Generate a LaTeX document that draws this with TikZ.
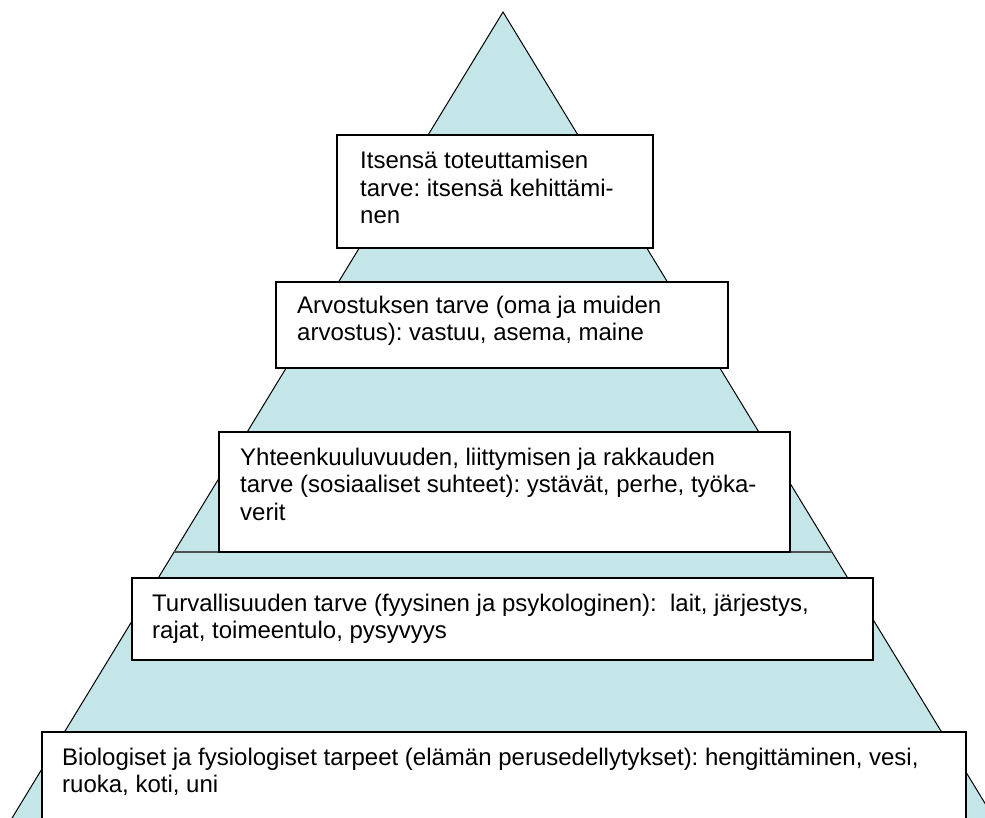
\documentclass[tikz,border=0pt]{standalone}
\usepackage{fontspec}
\setmainfont{Liberation Sans}
\definecolor{pyrfill}{RGB}{196,230,232}
\definecolor{layerline}{RGB}{80,80,80}
\begin{document}
\begin{tikzpicture}[x=1pt,y=-1pt,
  boxstyle/.style={draw=black,line width=2pt,fill=white},
  labelstyle/.style={anchor=base west,inner sep=0pt,align=left,
    font=\fontsize{24}{27.5}\selectfont\frenchspacing}]
\useasboundingbox (0,0) rectangle (985,818);
\clip (0,0) rectangle (985,818);
% pyramid
\coordinate (apex) at (503,12);
\coordinate (bl) at (-5,846);
\coordinate (br) at (1011,846);
\draw[fill=pyrfill,draw=black,line width=1pt] (apex) -- (bl) -- (br) -- cycle;
\coordinate (ll) at (174,552);
\coordinate (lr) at (832,552);
\draw[layerline,line width=1.5pt] (ll) -- (lr);
% boxes (text anchored at baseline of last line)
\draw[boxstyle] (337,135) rectangle (653,248);
\node[labelstyle] (t1) at (360,224) {Itsensä toteuttamisen\\tarve: itsensä kehittämi-\\nen};
\draw[boxstyle] (276,282) rectangle (728,368);
\node[labelstyle] (t2) at (297,340.5) {Arvostuksen tarve (oma ja muiden\\arvostus): vastuu, asema, maine};
\draw[boxstyle] (219,432) rectangle (790,552);
\node[labelstyle] (t3) at (240,520) {Yhteenkuuluvuuden, liittymisen ja rakkauden\\tarve (sosiaaliset suhteet): ystävät, perhe, työka-\\verit};
\draw[boxstyle] (132,578) rectangle (873,660);
\node[labelstyle] (t4) at (152,638.5) {Turvallisuuden tarve (fyysinen ja psykologinen):\ \ lait, järjestys,\\rajat, toimeentulo, pysyvyys};
\draw[boxstyle] (42,732) rectangle (966,840);
\node[labelstyle] (t5) at (62,792.5) {Biologiset ja fysiologiset tarpeet (elämän perusedellytykset): hengittäminen, vesi,\\ruoka, koti, uni};
\end{tikzpicture}
\end{document}
